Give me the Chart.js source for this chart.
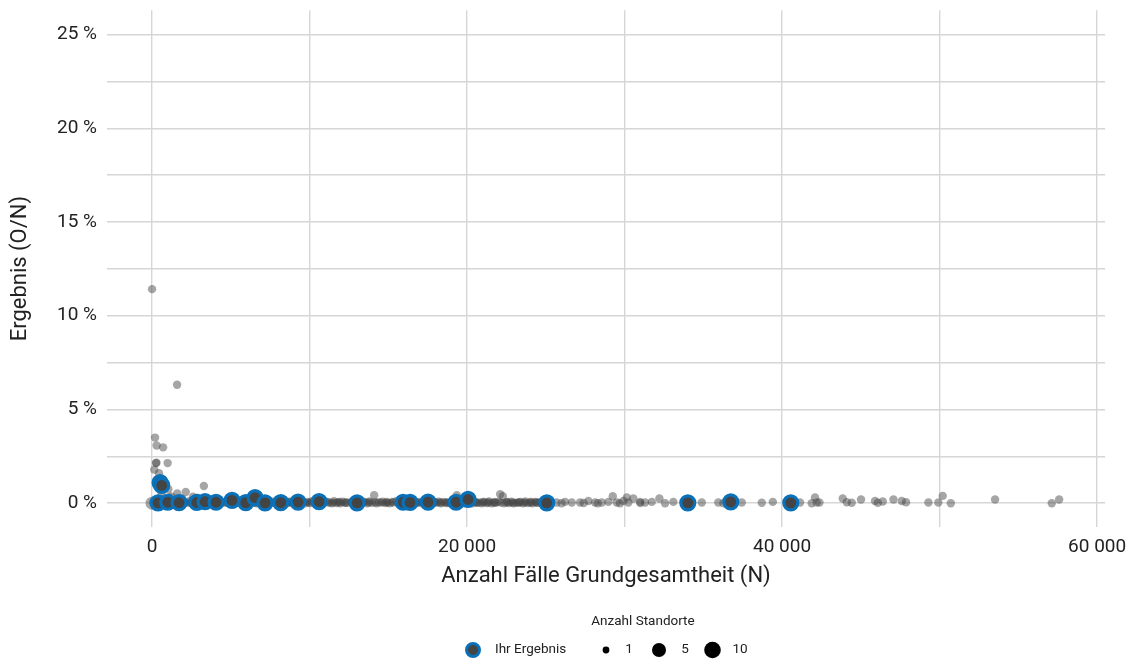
<!DOCTYPE html>
<html>
<head>
<meta charset="utf-8">
<script src="https://cdn.jsdelivr.net/npm/chart.js@4"></script>
<style>
  html, body { margin: 0; padding: 0; background: #fff; }
  #wrap { width: 1134px; height: 662px; position: relative; }
</style>
</head>
<body>
<div id="wrap"><canvas id="chart"></canvas></div>
<script>
// Ihr Ergebnis: [N, result in %]
const ownResults = [
  [380, 0.02], [508, 1.1], [616, 0.95], [997, 0.05], [1714, 0.03], [2838, 0.04],
  [3365, 0.08], [4063, 0.05], [5079, 0.15], [5949, 0.03], [6540, 0.3], [7175, 0.02],
  [8171, 0.03], [9270, 0.06], [10603, 0.08], [13016, 0.02], [15937, 0.05], [16381, 0.04],
  [17524, 0.06], [19302, 0.05], [20064, 0.2], [25060, 0.02], [34013, 0.02], [36740, 0.07],
  [40550, 0.02]
];

// other sites (1 Standort each)
const outliers = [
  [0, 11.42], [1590, 6.32], [190, 3.5], [290, 3.08], [700, 2.98], [250, 2.14],
  [280, 2.16], [990, 2.14], [140, 1.79], [440, 1.6], [1035, 0.74], [3290, 0.92],
  [2140, 0.6], [1600, 0.52], [600, 0.45], [1250, 0.35], [2900, 0.28]
];

const band = [
  [200, 0.05], [350, 0.12], [520, 0.02], [700, 0.2], [850, 0.08], [1100, 0.3], [1300, 0.04],
  [1500, 0.15], [1750, 0.06], [1900, 0.25], [2100, 0.03], [2350, 0.1], [2600, 0.35], [2800, 0.05],
  [3050, 0.12], [3300, 0.02], [3550, 0.09], [3800, 0.2], [4100, 0.04], [4350, 0.11], [4600, 0.06],
  [4900, 0.15], [5200, 0.03], [5450, 0.08], [5700, 0.12], [6000, 0.05], [6250, 0.1], [6500, 0.02],
  [6800, 0.07], [7050, 0.13], [7350, 0.04], [7600, 0.09], [7900, 0.06], [8200, 0.11], [8450, 0.03],
  [8750, 0.08], [9000, 0.05], [9300, 0.12], [9600, 0.04], [9850, 0.07], [10150, 0.1], [10400, 0.03],
  [10700, 0.06], [11000, 0.09], [11250, 0.04], [11550, 0.11], [11800, 0.05], [12100, 0.08], [12400, 0.02],
  [12650, 0.07], [12950, 0.1], [13250, 0.04], [13500, 0.06], [13800, 0.09], [14100, 0.42], [14400, 0.05],
  [14650, 0.08], [14950, 0.03], [15250, 0.07], [15500, 0.1], [15800, 0.04], [16100, 0.06], [16400, 0.09],
  [16700, 0.03], [17000, 0.07], [17300, 0.05], [17600, 0.1], [17900, 0.04], [18200, 0.08], [18500, 0.06],
  [18800, 0.03], [19100, 0.09], [19350, 0.42], [19600, 0.05], [19900, 0.07], [20200, 0.04], [20500, 0.08],
  [20800, 0.03], [21100, 0.06], [21400, 0.09], [21700, 0.04], [22000, 0.07], [22100, 0.48], [22270, 0.37],
  [22500, 0.05], [22800, 0.08], [23100, 0.03], [23400, 0.06], [23700, 0.09], [24000, 0.04], [24300, 0.07],
  [24600, 0.05], [24900, 0.08]
];

const bandLower = [
  [300, 0.03], [800, 0.04], [1400, 0.02], [1850, 0.05], [2250, 0.03], [2700, 0.06], [3100, 0.04],
  [3450, 0.05], [3850, 0.03], [4200, 0.06], [4500, 0.04], [4850, 0.05], [5150, 0.02], [5550, 0.06],
  [5950, 0.04], [6350, 0.05], [6700, 0.03], [7150, 0.06], [7450, 0.04], [7850, 0.05], [8300, 0.03],
  [8650, 0.06], [9100, 0.04], [9500, 0.05], [9950, 0.03], [10300, 0.06], [10750, 0.04], [11150, 0.05],
  [11500, 0.03], [11900, 0.06], [12300, 0.04], [12700, 0.05], [13050, 0.03], [13400, 0.06], [13750, 0.04],
  [14150, 0.05], [14550, 0.03], [14900, 0.06], [15300, 0.04], [15700, 0.05], [16050, 0.03], [16450, 0.06],
  [16800, 0.04], [17200, 0.05], [17550, 0.03], [17950, 0.06], [18300, 0.04], [18700, 0.05], [19050, 0.03],
  [19450, 0.06], [19850, 0.04], [20250, 0.05], [20600, 0.03], [21000, 0.06], [21350, 0.04], [21750, 0.05],
  [22150, 0.03], [22550, 0.06], [22900, 0.04], [23300, 0.05], [23650, 0.03], [24050, 0.06], [24400, 0.04],
  [24800, 0.05]
];

const zeroLine = [
  [100, 0], [600, 0], [950, 0.01], [1200, 0], [1650, 0.02], [2000, 0], [2450, 0.01], [2900, 0],
  [3200, 0.03], [3650, 0], [3950, 0.01], [4250, 0], [4750, 0.02], [5050, 0], [5350, 0.01], [5850, 0],
  [6150, 0.02], [6650, 0], [6950, 0.01], [7250, 0], [7750, 0.02], [8050, 0], [8600, 0.01], [8900, 0],
  [9450, 0.02], [9750, 0], [10050, 0.01], [10550, 0], [10850, 0.02], [11400, 0], [11700, 0.01], [11950, 0],
  [12250, 0.02], [12800, 0], [13100, 0.01], [13650, 0], [13950, 0.02], [14250, 0], [14800, 0.01], [15100, 0],
  [15650, 0.02], [15950, 0], [16250, 0.01], [16550, 0], [16850, 0.02], [17150, 0], [17450, 0.01], [17750, 0],
  [18050, 0.02], [18350, 0], [18650, 0.01], [18950, 0], [19250, 0.02], [19750, 0], [20050, 0.01], [20350, 0],
  [20650, 0.02], [20950, 0], [21250, 0.01], [21550, 0], [21850, 0.02], [22350, 0], [22650, 0.01], [22950, 0],
  [23250, 0.02], [23550, 0], [23850, 0.01], [24150, 0], [24450, 0.02], [24750, 0], [25300, 0.01]
];

const sparse = [
  [25694, 0.04], [26221, 0.07], [26646, 0.04], [27174, 0.04], [27700, 0.12], [28126, 0.04],
  [28551, 0.04], [28970, 0.07], [29250, 0.37], [29503, 0.04], [29923, 0.12], [30140, 0.3],
  [30240, 0.04], [30557, 0.25], [30982, 0.07], [31300, 0.04], [31726, 0.07], [32210, 0.25],
  [32570, 0], [33097, 0.07], [26000, 0], [27400, 0.01], [28300, 0], [29700, 0], [31000, 0.01],
  [34900, 0.04], [35950, 0.04], [36270, 0], [37440, 0.04], [38710, 0.02], [39410, 0.07],
  [41140, 0.04], [41880, 0], [42090, 0.3], [42200, 0.04], [42370, 0.04], [43850, 0.25],
  [44110, 0.05], [44420, 0.02], [45010, 0.2], [45900, 0.12], [46080, 0.02], [46390, 0.09],
  [47070, 0.2], [47600, 0.12], [47870, 0.05], [49290, 0.04], [49920, 0.04], [50200, 0.39],
  [50710, 0], [53520, 0.2], [57120, 0], [57590, 0.2]
];

// site with 5 Standorte
const bigSites = [[0, 0]];

const xGridValues = [0, 10000, 20000, 30000, 40000, 50000, 60000];
const xLabelValues = [0, 20000, 40000, 60000];
const yGridValues = [0, 2.5, 5, 7.5, 10, 12.5, 15, 17.5, 20, 22.5, 25];
const yLabelValues = [0, 5, 10, 15, 20, 25];
const legendSizes = ['1', '5', '10'];

const toPts = arr => arr.map(p => ({ x: p[0], y: p[1] }));
const fmtThousands = v => String(v).replace(/\B(?=(\d{3})+(?!\d))/g, ' ');

const BLUE = '#0a71b9';
const DARK = '#444444';
const GREY = 'rgba(68,68,68,0.48)';
const GRID = '#d6d6d6';
const TEXT = '#222222';
const FONT = 'Roboto';

const legendPlugin = {
  id: 'sizeLegend',
  afterDraw(chart) {
    const ctx = chart.ctx;
    ctx.save();
    ctx.fillStyle = TEXT;
    ctx.font = '13.5px ' + FONT;
    ctx.textAlign = 'center';
    ctx.textBaseline = 'middle';
    ctx.fillText('Anzahl Standorte', 643, 622);

    const cy = 650;
    // Ihr Ergebnis marker
    ctx.beginPath();
    ctx.arc(473, cy, 6.5, 0, Math.PI * 2);
    ctx.fillStyle = DARK;
    ctx.fill();
    ctx.lineWidth = 3;
    ctx.strokeStyle = BLUE;
    ctx.stroke();
    ctx.fillStyle = TEXT;
    ctx.textAlign = 'left';
    ctx.fillText('Ihr Ergebnis', 495, cy);

    const dotX = [606, 659, 712.5];
    const dotR = [3.4, 7, 8.3];
    const labX = [629, 685, 740];
    legendSizes.forEach((lab, i) => {
      ctx.beginPath();
      ctx.arc(dotX[i], cy, dotR[i], 0, Math.PI * 2);
      ctx.fillStyle = '#000';
      ctx.fill();
      ctx.fillStyle = TEXT;
      ctx.textAlign = 'center';
      ctx.fillText(lab, labX[i], cy);
    });
    ctx.restore();
  }
};

new Chart(document.getElementById('chart'), {
  type: 'scatter',
  data: {
    datasets: [
      {
        label: 'Ihr Ergebnis',
        data: toPts(ownResults),
        order: 0,
        pointRadius: 7,
        pointBackgroundColor: DARK,
        pointBorderColor: BLUE,
        pointBorderWidth: 3.2
      },
      {
        label: 'Standorte',
        data: toPts(outliers.concat(band, bandLower, zeroLine, sparse)),
        order: 1,
        pointRadius: 4.2,
        pointBackgroundColor: GREY,
        pointBorderWidth: 0
      },
      {
        label: '5 Standorte',
        data: toPts(bigSites),
        order: 2,
        pointRadius: 6.5,
        pointBackgroundColor: GREY,
        pointBorderWidth: 0
      }
    ]
  },
  options: {
    responsive: true,
    maintainAspectRatio: false,
    animation: false,
    events: [],
    layout: { padding: { top: 8, right: 29, bottom: 70, left: 0 } },
    plugins: { legend: { display: false }, tooltip: { enabled: false } },
    scales: {
      x: {
        type: 'linear',
        min: -2860,
        max: 60500,
        afterBuildTicks: s => { s.ticks = xGridValues.map(v => ({ value: v })); },
        afterFit: s => { s.height = 65; s.paddingLeft = 0; s.paddingRight = 0; },
        border: { display: false },
        grid: { color: GRID, lineWidth: 1.4, drawTicks: false },
        ticks: {
          autoSkip: false,
          maxRotation: 0,
          padding: 9,
          color: TEXT,
          font: { family: FONT, size: 19 },
          callback: v => xLabelValues.includes(v) ? fmtThousands(v) : ''
        },
        title: {
          display: true,
          text: 'Anzahl Fälle Grundgesamtheit (N)',
          color: TEXT,
          font: { family: FONT, size: 22 },
          padding: { top: 0, bottom: 2 }
        }
      },
      y: {
        min: -1.27,
        max: 26.3,
        afterBuildTicks: s => { s.ticks = yGridValues.map(v => ({ value: v })); },
        afterFit: s => { s.width = 107; s.paddingTop = 0; s.paddingBottom = 0; },
        border: { display: false },
        grid: { color: GRID, lineWidth: 1.4, drawTicks: false },
        ticks: {
          autoSkip: false,
          padding: 10,
          color: TEXT,
          font: { family: FONT, size: 19 },
          callback: v => yLabelValues.includes(v) ? v + ' %' : ''
        },
        title: {
          display: true,
          text: 'Ergebnis (O/N)',
          color: TEXT,
          font: { family: FONT, size: 22 },
          padding: { top: 7, bottom: 0 }
        }
      }
    }
  },
  plugins: [legendPlugin]
});
</script>
</body>
</html>
